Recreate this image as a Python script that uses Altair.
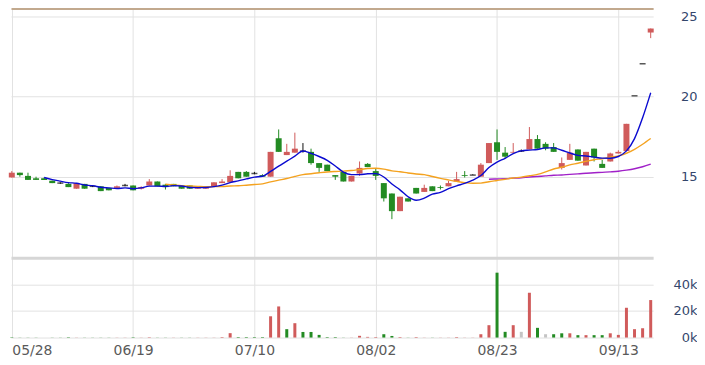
import altair as alt
import pandas as pd

# ---- data ----
tick_idx = [0, 15, 30, 45, 60, 75]
tick_labels = ["05/28", "06/19", "07/10", "08/02", "08/23", "09/13"]

opens = [14.95, 15.25, 15.05, 14.90, 14.90, 14.75, 14.60, 14.55, 14.25, 14.55,
         14.40, 14.40, 14.30, 14.30, 14.45, 14.45, 14.25, 14.45, 14.70, 14.50,
         14.55, 14.45, 14.45, 14.25, 14.25, 14.40, 14.60, 14.65, 15.30, 15.30,
         15.20, 15.10, 15.00, 17.40, 16.35, 16.50, 16.60, 16.55, 15.85, 15.75,
         15.10, 15.30, 14.70, 15.20, 15.80, 15.35, 14.60, 13.95, 12.85, 13.65,
         14.30, 14.05, 14.40, 14.35, 14.40, 14.70, 15.10, 15.10, 15.00, 15.85,
         17.15, 16.50, 16.50, 16.60, 16.70, 17.35, 17.05, 16.85, 15.55, 16.05,
         16.70, 15.70, 16.75, 15.80, 15.95, 16.45, 16.60, 20.05, 22.05, 24.00]
highs = [15.35, 15.25, 15.25, 15.00, 14.95, 14.75, 14.65, 14.60, 14.60, 14.55,
         14.45, 14.40, 14.30, 14.45, 14.55, 14.45, 14.40, 14.85, 14.70, 14.55,
         14.55, 14.45, 14.45, 14.40, 14.40, 14.65, 14.85, 15.40, 15.30, 15.35,
         15.30, 15.15, 16.55, 17.95, 17.05, 17.75, 17.10, 16.75, 15.85, 15.75,
         15.10, 15.30, 15.05, 15.95, 15.85, 15.50, 14.60, 13.95, 13.75, 13.65,
         14.30, 14.50, 14.40, 14.45, 14.75, 15.30, 15.35, 15.15, 15.85, 17.10,
         17.95, 16.85, 17.10, 16.70, 18.10, 17.60, 17.15, 17.10, 16.20, 17.05,
         16.70, 16.55, 16.75, 16.05, 16.50, 16.65, 18.30, 20.05, 22.05, 24.25]
lows = [14.95, 15.00, 14.80, 14.80, 14.80, 14.60, 14.55, 14.35, 14.25, 14.25,
        14.35, 14.10, 14.15, 14.30, 14.40, 14.15, 14.20, 14.45, 14.40, 14.20,
        14.40, 14.25, 14.25, 14.25, 14.25, 14.40, 14.60, 14.65, 14.90, 15.00,
        15.15, 15.00, 15.00, 16.55, 16.35, 16.50, 16.50, 15.75, 15.30, 15.35,
        14.80, 14.70, 14.70, 15.05, 15.60, 14.80, 13.45, 12.35, 12.85, 13.45,
        13.95, 14.05, 14.10, 14.20, 14.40, 14.70, 14.95, 15.10, 15.00, 15.85,
        16.05, 16.15, 16.50, 16.55, 16.70, 16.75, 16.65, 16.55, 15.45, 16.05,
        16.00, 15.70, 15.95, 15.55, 15.95, 16.45, 16.60, 20.05, 22.05, 23.65]
closes = [15.25, 15.10, 14.80, 14.80, 14.80, 14.60, 14.60, 14.35, 14.60, 14.25,
          14.40, 14.10, 14.15, 14.40, 14.45, 14.15, 14.35, 14.70, 14.40, 14.35,
          14.40, 14.25, 14.25, 14.35, 14.40, 14.65, 14.70, 15.05, 14.90, 15.00,
          15.20, 15.00, 16.55, 16.55, 16.55, 16.75, 16.60, 15.85, 15.55, 15.35,
          15.00, 14.70, 15.05, 15.55, 15.60, 15.05, 13.65, 12.85, 13.75, 13.45,
          13.95, 14.30, 14.10, 14.30, 14.60, 14.85, 15.05, 15.10, 15.75, 17.10,
          16.55, 16.25, 16.55, 16.60, 17.35, 16.75, 16.75, 16.55, 15.85, 16.50,
          16.00, 16.55, 16.20, 15.55, 16.45, 16.55, 18.30, 20.05, 22.05, 24.25]
volumes_k = [0.3, 0.1, 0.1, 0.1, 0.1, 0.1, 0.1, 0.3, 0.1, 0.1,
             0.1, 0.1, 0.1, 0.1, 0.1, 0.3, 0.1, 0.3, 0.1, 0.1,
             0.1, 0.1, 0.1, 0.1, 0.1, 0.1, 0.4, 3.3, 0.4, 0.4,
             0.4, 0.4, 16.0, 23.4, 6.3, 10.8, 4.2, 4.2, 2.0, 0.4,
             0.4, 0.1, 0.1, 1.3, 0.5, 0.4, 2.5, 1.2, 0.4, 0.1,
             0.4, 0.1, 0.1, 0.1, 0.1, 0.4, 0.1, 0.1, 2.5, 9.3,
             48.8, 4.3, 9.3, 4.3, 33.7, 7.3, 2.5, 2.5, 3.2, 3.2,
             1.8, 1.8, 1.8, 1.8, 3.2, 2.0, 22.4, 6.3, 7.0, 28.2]
vol_dir = ["d", "d", "d", "d", "d", "d", "d", "d", "u", "d",
           "d", "d", "d", "u", "u", "d", "u", "u", "d", "d",
           "u", "d", "d", "u", "u", "u", "u", "u", "d", "d",
           "d", "d", "u", "u", "d", "u", "d", "d", "d", "d",
           "d", "d", "u", "u", "u", "u", "d", "d", "u", "d",
           "u", "u", "d", "u", "u", "u", "u", "u", "u", "u",
           "d", "d", "u", "f", "u", "d", "f", "d", "d", "u",
           "d", "u", "d", "d", "u", "u", "u", "u", "u", "u"]

RED = "#d05b5b"
GREEN = "#238b23"

n = len(closes)
cdir = ["u" if c > o else ("d" if c < o else "f") for o, c in zip(opens, closes)]
df = pd.DataFrame({
    "i": list(range(n)), "open": opens, "high": highs, "low": lows,
    "close": closes, "vol": [v * 1000 for v in volumes_k],
    "vdir": vol_dir, "cdir": cdir,
})

label_expr = "".join(f"datum.value === {i} ? '{l}' : " for i, l in zip(tick_idx, tick_labels)) + "''"

W = 644
xscale = alt.Scale(domain=[-0.1, 79.3], nice=False, zero=False, padding=0)
GRID = "#e2e2e2"

x_top = alt.X("i:Q", scale=xscale, axis=alt.Axis(
    orient="top", values=tick_idx, labels=False, ticks=False, title=None,
    grid=True, gridColor=GRID, domain=True, domainColor="#c2a98e", domainWidth=2))

yscale = alt.Scale(domain=[10, 25.5], nice=False, zero=False, padding=0)
y_axis = alt.Axis(orient="right", values=[15, 20, 25], title=None, grid=True,
                  gridColor=GRID, domain=False, ticks=False, labelAlign="right",
                  labelPadding=44, labelFontSize=13, labelColor="#33466b")

cscale = alt.Scale(domain=["u", "d", "f"], range=[RED, GREEN, "#111111"])
ccolor = alt.Color("cdir:N", scale=cscale, legend=None)

base = alt.Chart(df)

wick = base.mark_rule(strokeWidth=1).encode(
    x=x_top, y=alt.Y("low:Q", scale=yscale, axis=y_axis), y2="high:Q", color=ccolor)
body = base.transform_filter("datum.open != datum.close").mark_bar(size=6).encode(
    x="i:Q", y="open:Q", y2="close:Q", color=ccolor)
flat = base.transform_filter("datum.open == datum.close").mark_tick(
    orient="horizontal", size=6, thickness=1.5).encode(x="i:Q", y="close:Q", color=ccolor)


def ma_line(k, color):
    return base.transform_window(
        ma="mean(close)", cnt="count()", frame=[-(k - 1), 0],
        sort=[alt.SortField("i", order="ascending")]
    ).transform_filter(f"datum.cnt >= {k}").mark_line(
        color=color, strokeWidth=1.4, interpolate="monotone"
    ).encode(x="i:Q", y="ma:Q")


price = alt.layer(
    wick, body, flat,
    ma_line(60, "#a020c8"), ma_line(20, "#f4a21f"), ma_line(5, "#0a0ad0"),
).properties(width=W, height=249)

vscale = alt.Scale(domain=["u", "d", "f"], range=[RED, GREEN, "#c4c4c4"])
vol = base.mark_bar(size=3).encode(
    x=alt.X("i:Q", scale=xscale, axis=alt.Axis(
        orient="bottom", values=tick_idx, labelExpr=label_expr, title=None,
        grid=True, gridColor=GRID, domain=False, ticks=False, labelFlush=True,
        labelPadding=6, labelFontSize=14, labelColor="#5a5a5a")),
    y=alt.Y("vol:Q", scale=alt.Scale(domain=[0, 60000], nice=False, padding=0), axis=alt.Axis(
        orient="right", values=[0, 20000, 40000, 60000], title=None,
        labelExpr="datum.value >= 60000 ? '' : (datum.value / 1000) + 'k'",
        grid=True,
        gridColor={"condition": {"test": "datum.value >= 60000", "value": "#d6d6d6"}, "value": GRID},
        gridWidth={"condition": {"test": "datum.value >= 60000", "value": 3}, "value": 1},
        domain=False, ticks=False, labelAlign="right", labelPadding=44,
        labelFontSize=13, labelColor="#33466b")),
    color=alt.Color("vdir:N", scale=vscale, legend=None),
).properties(width=W, height=80)

chart = alt.vconcat(price, vol, spacing=1).resolve_scale(
    color="independent", x="independent", y="independent"
).properties(padding=0).configure(font="DejaVu Sans").configure_view(strokeWidth=0)

chart.save("out.html", embed_options={"renderer": "svg", "actions": False})
